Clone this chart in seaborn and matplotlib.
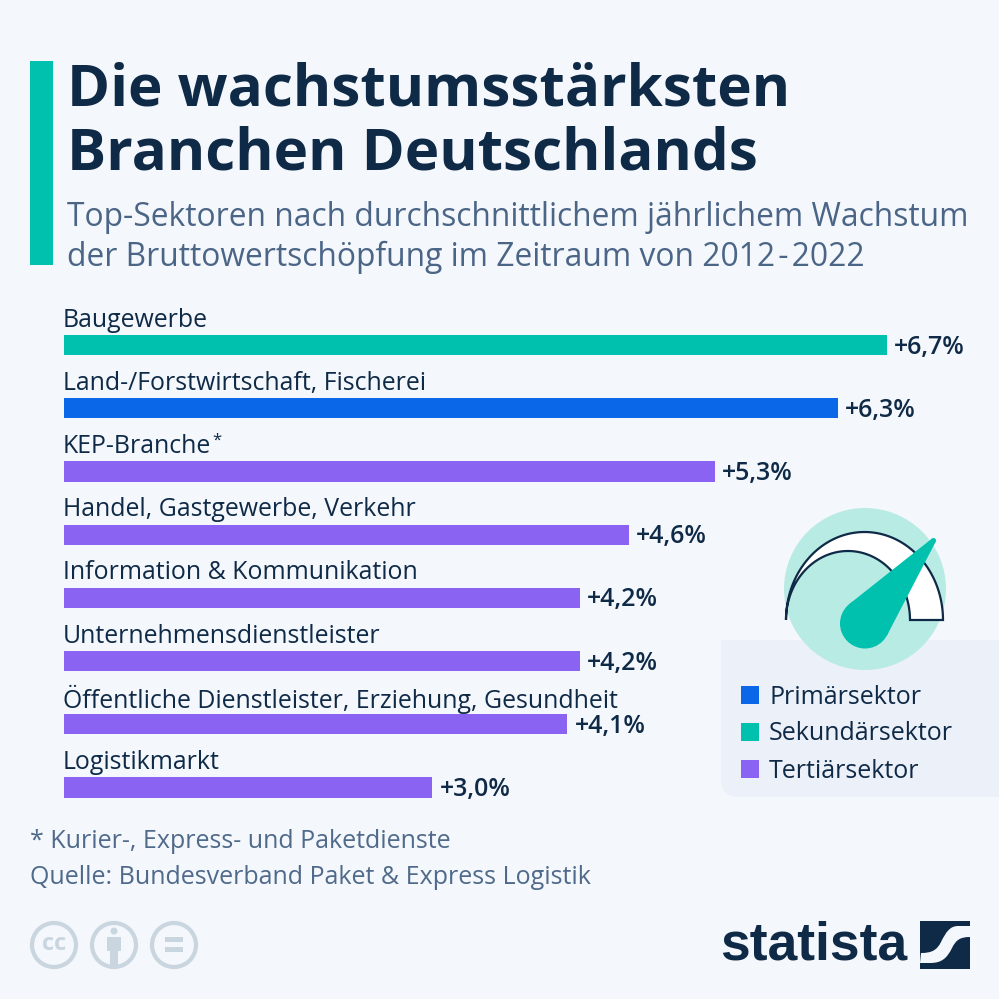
#### statista infographic: fastest growing sectors in Germany
import numpy as np
import pandas as pd
import seaborn as sns
import matplotlib.pyplot as plt
from matplotlib.patches import Circle, Rectangle, Polygon, PathPatch
from matplotlib.path import Path

branchen = [
    "Baugewerbe",
    "Land-/Forstwirtschaft, Fischerei",
    "KEP-Branche*",
    "Handel, Gastgewerbe, Verkehr",
    "Information & Kommunikation",
    "Unternehmensdienstleister",
    "Öffentliche Dienstleister, Erziehung, Gesundheit",
    "Logistikmarkt",
]
wachstum = [6.7, 6.3, 5.3, 4.6, 4.2, 4.2, 4.1, 3.0]
sektor = [
    "Sekundärsektor",
    "Primärsektor",
    "Tertiärsektor",
    "Tertiärsektor",
    "Tertiärsektor",
    "Tertiärsektor",
    "Tertiärsektor",
    "Tertiärsektor",
]
legend_labels = ["Primärsektor", "Sekundärsektor", "Tertiärsektor"]
sektor_colours = {
    "Primärsektor": "#0a68e8",
    "Sekundärsektor": "#00c1ae",
    "Tertiärsektor": "#8a63f2",
}

BG = "#f4f7fb"
DARK = "#0f2a47"
SUB = "#4b6587"
FOOT = "#4f6a8a"
ICON = "#c9d5df"
TEAL = "#00c1ae"

sns.set_theme(style="white")
plt.rcParams["font.family"] = ["Open Sans", "DejaVu Sans"]

fig = plt.figure(figsize=(9.99, 9.99), dpi=100, facecolor=BG)

# overlay in pixel coordinates for everything that is not a bar
bg = fig.add_axes([0, 0, 1, 1], zorder=0)
bg.set_xlim(0, 999)
bg.set_ylim(999, 0)
bg.axis("off")

# header
bg.add_patch(Rectangle((30, 61), 23, 204, color=TEAL, lw=0))
bg.text(67, 90, "Die wachstumsstärksten", fontsize=42, fontweight="bold",
        color=DARK, va="center")
bg.text(67, 155, "Branchen Deutschlands", fontsize=42, fontweight="bold",
        color=DARK, va="center")
bg.text(67, 217, "Top-Sektoren nach durchschnittlichem jährlichem Wachstum",
        fontsize=22.9, color=SUB, va="center")
bg.text(67, 257, "der Bruttowertschöpfung im Zeitraum von 2012\u200a-\u200a2022",
        fontsize=22.9, color=SUB, va="center")

# legend panel, rounded only at the lower left
panel = Path(
    [(1000, 640), (721, 640), (721, 780), (721, 797), (738, 797), (1000, 797), (1000, 640)],
    [Path.MOVETO, Path.LINETO, Path.LINETO, Path.CURVE3, Path.CURVE3, Path.LINETO, Path.CLOSEPOLY],
)
bg.add_patch(PathPatch(panel, fc="#ecf0f8", ec="none"))

# gauge icon
bg.add_patch(Circle((865, 589), 81, fc="#b9ebe5", ec="none"))
t = np.linspace(np.pi, 0, 80)
outer = np.c_[864.5 + 78.5 * np.cos(t), 620 - 88 * np.sin(t)]
inner = np.c_[848 + 62 * np.cos(t), 620 - 69 * np.sin(t)]
bg.add_patch(Polygon(np.r_[outer, inner[::-1]], closed=True, fc="white", ec=DARK, lw=1.6))
bg.add_patch(Circle((865, 623.5), 25, fc=TEAL, ec="none"))
bg.add_patch(Circle((933.5, 540.5), 2.5, fc=TEAL, ec="none"))
bg.add_patch(Polygon([(849, 604.3), (931.9, 538.6), (935.7, 541.7), (887.1, 635.2)],
                     closed=True, fc=TEAL, ec="none"))

# legend entries
for label, y in zip(legend_labels, [695, 732, 769]):
    bg.add_patch(Rectangle((741, y - 9), 18, 18, color=sektor_colours[label], lw=0))
    bg.text(769, y + 2, label, fontsize=18, color=DARK, va="center")

# footer
bg.text(30, 842, "* Kurier-, Express- und Paketdienste", fontsize=18, color=FOOT, va="center")
bg.text(30, 878, "Quelle: Bundesverband Paket & Express Logistik", fontsize=18, color=FOOT, va="center")

# cc icons
for cx in [54, 114, 174]:
    bg.add_patch(Circle((cx, 945), 22, fc="none", ec=ICON, lw=3))
bg.text(54, 944, "cc", fontsize=17, fontweight="bold", color=ICON, ha="center", va="center")
bg.add_patch(Circle((114, 931), 3.5, color=ICON, lw=0))
bg.add_patch(Rectangle((107, 937), 14, 14, color=ICON, lw=0))
bg.add_patch(Rectangle((110, 950), 8, 15, color=ICON, lw=0))
bg.add_patch(Rectangle((165, 937), 18, 5, color=ICON, lw=0))
bg.add_patch(Rectangle((165, 947), 18, 5, color=ICON, lw=0))

# statista logo
bg.text(720, 945, "statista", fontsize=38.5, fontweight="bold", color=DARK, va="center",
        family="Liberation Sans")
bg.add_patch(Rectangle((920, 921), 50, 48, color=DARK, lw=0))
swoosh = Path(
    [(921, 953), (932, 953), (937, 950), (941, 942), (946, 932), (950, 926), (958, 926),
     (970, 926), (970, 937), (960, 937), (956, 940), (952, 948), (947, 958), (942, 963),
     (930, 963), (920, 963), (920, 953)],
    [Path.MOVETO, Path.CURVE4, Path.CURVE4, Path.CURVE4, Path.CURVE4, Path.CURVE4, Path.CURVE4,
     Path.LINETO, Path.LINETO, Path.CURVE4, Path.CURVE4, Path.CURVE4, Path.CURVE4, Path.CURVE4,
     Path.CURVE4, Path.LINETO, Path.CLOSEPOLY],
)
bg.add_patch(PathPatch(swoosh, fc=BG, ec="none"))

# bars, value axis runs at 122.8 px per percentage point
df = pd.DataFrame({"branche": branchen, "wachstum": wachstum, "sektor": sektor})
ax = fig.add_axes([64 / 999, 1 - 819 / 999, 935 / 999, 505.5 / 999], zorder=1)
ax.patch.set_alpha(0)
sns.barplot(
    data=df, x="wachstum", y="branche", hue="sektor", palette=sektor_colours,
    dodge=False, width=0.32, saturation=1, legend=False, linewidth=0, ax=ax,
)
ax.set_xlim(0, 935 / 122.8)
ax.set_ylim(7.5, -0.5)
ax.axis("off")

for i, (name, val) in enumerate(zip(branchen, wachstum)):
    stem = name.rstrip("*")
    lab = ax.annotate(stem, xy=(0, i), xytext=(-1, 25), textcoords="offset pixels",
                      fontsize=17.9, color=DARK, va="center", ha="left", annotation_clip=False)
    # small raised footnote mark after the label
    if name.endswith("*"):
        ax.annotate("*", xy=(1, 1), xycoords=lab, xytext=(1, -7), textcoords="offset pixels",
                    fontsize=12, color=DARK, va="center", ha="left")
    ax.annotate(f"+{val:.1f}%".replace(".", ","), xy=(val, i), xytext=(7, -2),
                textcoords="offset pixels", fontsize=18, fontweight="semibold",
                color=DARK, va="center", ha="left")

fig.savefig("out.png", dpi=100, facecolor=BG)
